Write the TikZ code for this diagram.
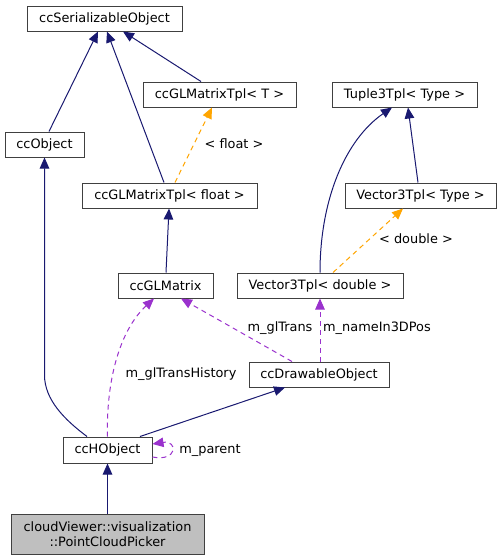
\documentclass[tikz,border=0pt]{standalone}
\usepackage{fontspec}
\setmainfont{DejaVu Sans}
\usetikzlibrary{arrows.meta}
\definecolor{edgeblue}{HTML}{191970}
\definecolor{edgeorange}{HTML}{FFA500}
\definecolor{edgepurple}{HTML}{9A32CD}
\definecolor{boxline}{HTML}{404040}
\definecolor{boxgray}{HTML}{BFBFBF}
\begin{document}
\begin{tikzpicture}[x=1pt,y=-1pt,
  every node/.style={font=\fontsize{12.9}{15}\selectfont, inner sep=0pt},
  cls/.style={draw=boxline, line width=1pt, fill=white, minimum height=25pt},
  inh/.style={draw=edgeblue, line width=1pt, -{Triangle[length=11pt,width=9.5pt]}},
  tpl/.style={draw=edgeorange, line width=1pt, dash pattern=on 5pt off 4pt, -{Triangle[length=11pt,width=9.5pt]}},
  usage/.style={draw=edgepurple, line width=1pt, dash pattern=on 5pt off 4pt, -{Triangle[length=11pt,width=9.5pt]}},
  lbl/.style={fill=none}
]
\useasboundingbox (0,0) rectangle (501,560);

\node[cls, minimum width=155pt] (ss) at (104.5,18.5) {ccSerializableObject};
\node[cls, minimum width=153pt] (tplT) at (219.5,94.5) {ccGLMatrixTpl< T >};
\node[cls, minimum width=145pt] (tuple) at (404.5,94.5) {Tuple3Tpl< Type >};
\node[cls, minimum width=79pt] (obj) at (44.5,144.5) {ccObject};
\node[cls, minimum width=175pt] (tplf) at (169.5,195.5) {ccGLMatrixTpl< float >};
\node[cls, minimum width=151pt] (v3type) at (420.5,195.5) {Vector3Tpl< Type >};
\node[cls, minimum width=95pt] (glm) at (165.5,285.5) {ccGLMatrix};
\node[cls, minimum width=166pt] (v3d) at (320,285.5) {Vector3Tpl< double >};
\node[cls, minimum width=140pt] (drw) at (319,374.5) {ccDrawableObject};
\node[cls, minimum width=89pt, minimum height=26pt] (hobj) at (107.5,450) {ccHObject};
\node[cls, fill=boxgray, minimum width=193pt, minimum height=40pt, align=center] (pcp) at (107.5,534) {cloudViewer::visualization\\::PointCloudPicker};

% inheritance
\draw[inh] ([xshift=4.5pt]obj.north) -- ([xshift=-6.5pt]ss.south);
\draw[inh] ([xshift=-5.5pt]tplf.north) -- ([xshift=2.5pt]ss.south);
\draw[inh] ([xshift=-18.5pt]tplT.north) -- ([xshift=18.5pt]ss.south);
\draw[inh] ([xshift=0.5pt]glm.north) -- ([xshift=-0.5pt]tplf.south);
\draw[inh] (v3d.north) .. controls (320,200) and (345,140) .. ([xshift=-12.5pt]tuple.south);
\draw[inh] ([xshift=-2.5pt]v3type.north) -- ([xshift=3.5pt]tuple.south);
\draw[inh] ([xshift=-20.5pt]hobj.north) .. controls (65,420) and (44.5,400) .. (44.5,375) -- (obj.south);
\draw[inh] ([xshift=32.5pt]hobj.north) -- ([xshift=-34pt]drw.south);
\draw[inh] (pcp.north) -- (hobj.south);

% template instances
\draw[tpl] ([xshift=5.5pt]tplf.north) -- ([xshift=-7.5pt]tplT.south);
\node[lbl] (lf) at (234,144) {< float >};
\draw[tpl] ([xshift=13pt]v3d.north) -- ([xshift=-17.5pt]v3type.south);
\node[lbl] (ld) at (416,239) {< double >};

% usage
\draw[usage] ([xshift=-27pt]drw.north) -- ([xshift=15.5pt]glm.south);
\node[lbl] (lgt) at (280,328) {m\_glTrans};
\draw[usage] ([xshift=1pt]drw.north) -- (v3d.south);
\node[lbl] (lnp) at (377,328) {m\_nameIn3DPos};
\draw[usage] (hobj.north) .. controls (106,380) and (120,330) .. ([xshift=-11.5pt]glm.south);
\node[lbl] (lgth) at (181,374) {m\_glTransHistory};
\draw[usage] ([yshift=-7pt]hobj.east) .. controls (178,462) and (178,440) .. ([yshift=6pt]hobj.east);
\node[lbl] (lpar) at (210,450) {m\_parent};
\end{tikzpicture}
\end{document}
